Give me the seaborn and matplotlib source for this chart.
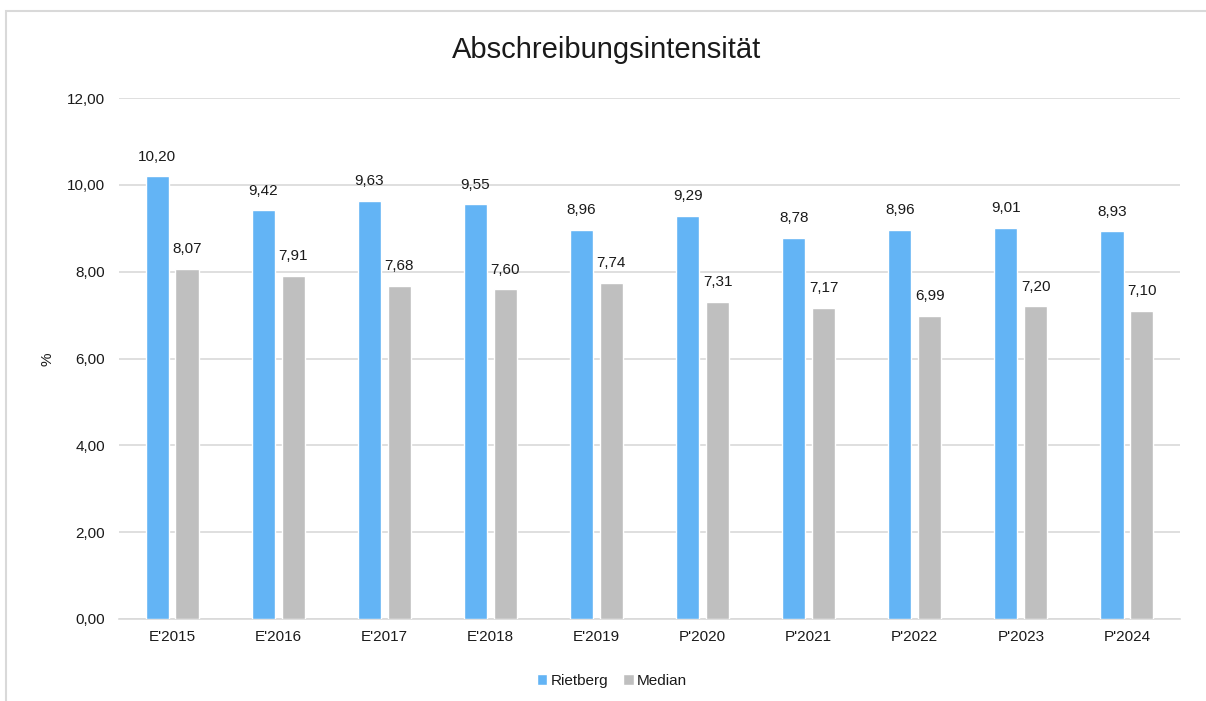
import matplotlib
matplotlib.use("Agg")
import matplotlib.pyplot as plt
import seaborn as sns
import pandas as pd
from matplotlib.patches import Rectangle

categories = ["E'2015", "E'2016", "E'2017", "E'2018", "E'2019",
              "P'2020", "P'2021", "P'2022", "P'2023", "P'2024"]
rietberg = [10.20, 9.42, 9.63, 9.55, 8.96, 9.29, 8.78, 8.96, 9.01, 8.93]
median = [8.07, 7.91, 7.68, 7.60, 7.74, 7.31, 7.17, 6.99, 7.20, 7.10]
series_names = ["Rietberg", "Median"]
colors = ["#63B4F5", "#BFBFBF"]

df = pd.DataFrame({
    "Jahr": categories * 2,
    "Wert": rietberg + median,
    "Serie": [series_names[0]] * len(categories) + [series_names[1]] * len(categories),
})

sns.set_theme(style="white")
plt.rcParams['font.family'] = ['Liberation Sans', 'DejaVu Sans']

TXT = "#1a1a1a"
FS = 11

fig = plt.figure(figsize=(12.06, 7.01), dpi=100)
ax = fig.add_axes([119/1206, 1 - 619/701, (1180-119)/1206, (619-98)/701])

sns.barplot(data=df, x="Jahr", y="Wert", hue="Serie", palette=colors,
            width=0.565, gap=0.23, saturation=1, ax=ax, legend=True, zorder=3)

ax.set_ylim(0, 12)
ax.set_yticks([0, 2, 4, 6, 8, 10, 12])
ax.set_yticklabels([f"{v:.2f}".replace(".", ",") for v in [0, 2, 4, 6, 8, 10, 12]])
ax.yaxis.grid(True, color="#D9D9D9", linewidth=1.2, zorder=0)
ax.set_axisbelow(True)
for s in ["top", "right", "left"]:
    ax.spines[s].set_visible(False)
ax.spines["bottom"].set_color("#D9D9D9")
ax.spines["bottom"].set_linewidth(1.2)
ax.tick_params(axis="both", length=0, labelsize=FS, labelcolor=TXT)
ax.tick_params(axis="y", pad=10)
ax.tick_params(axis="x", pad=8)
ax.set_xlabel("")
ax.set_ylabel("")
fig.text(47/1206, 1 - 359/701, "%", rotation=90, ha="center", va="center",
         fontsize=FS, color=TXT)

for cont in ax.containers:
    labels = [f"{b.get_height():.2f}".replace(".", ",") for b in cont]
    ax.bar_label(cont, labels=labels, padding=9, fontsize=FS, color=TXT)

fig.text(607/1206, 1 - 50/701, "Abschreibungsintensität", ha="center", va="center",
         fontsize=21, color=TXT)

leg = ax.legend(loc="center", bbox_to_anchor=(612/1206, 1 - 681/701),
                bbox_transform=fig.transFigure, ncol=2,
                frameon=False, fontsize=FS, handlelength=0.7, handleheight=0.7,
                handletextpad=0.2, columnspacing=1.0)
for t in leg.get_texts():
    t.set_color(TXT)

fig.patches.append(Rectangle((5.5/1206, -0.1), 1.2, 1 - 10.5/701 + 0.1,
                             transform=fig.transFigure, fill=False,
                             edgecolor="#D9D9D9", linewidth=1.5, zorder=0))

fig.savefig("out.png", dpi=100)
